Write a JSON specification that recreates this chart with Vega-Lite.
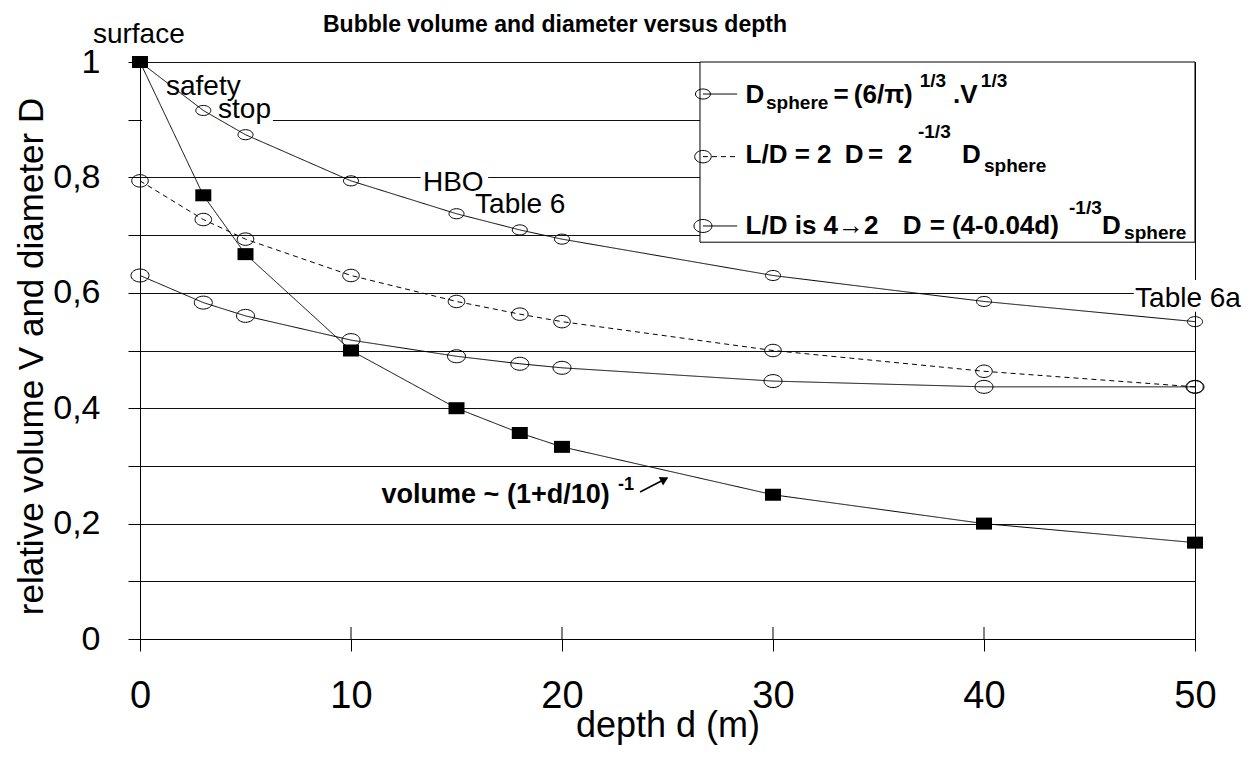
{
  "$schema": "https://vega.github.io/schema/vega-lite/v6.json",
  "autosize": "none",
  "width": 1055,
  "height": 577,
  "padding": {"left": 140, "top": 62, "right": 55, "bottom": 122},
  "background": "white",
  "title": {
    "text": "Bubble volume and diameter versus depth",
    "font": "Liberation Sans",
    "fontSize": 23,
    "fontWeight": "bold",
    "color": "black",
    "anchor": "start",
    "frame": "group",
    "dx": 183,
    "offset": 0,
    "dy": 34,
    "baseline": "alphabetic"
  },
  "config": {
    "view": {"stroke": "black", "strokeWidth": 1},
    "font": "Liberation Sans"
  },
  "datasets": {
    "series": [
      {"series": "Dsphere", "d": 0, "v": 1.0},
      {"series": "Dsphere", "d": 3, "v": 0.916},
      {"series": "Dsphere", "d": 5, "v": 0.874},
      {"series": "Dsphere", "d": 10, "v": 0.794},
      {"series": "Dsphere", "d": 15, "v": 0.737},
      {"series": "Dsphere", "d": 18, "v": 0.709},
      {"series": "Dsphere", "d": 20, "v": 0.693},
      {"series": "Dsphere", "d": 30, "v": 0.630},
      {"series": "Dsphere", "d": 40, "v": 0.585},
      {"series": "Dsphere", "d": 50, "v": 0.550},
      {"series": "LD2", "d": 0, "v": 0.794},
      {"series": "LD2", "d": 3, "v": 0.727},
      {"series": "LD2", "d": 5, "v": 0.693},
      {"series": "LD2", "d": 10, "v": 0.630},
      {"series": "LD2", "d": 15, "v": 0.585},
      {"series": "LD2", "d": 18, "v": 0.563},
      {"series": "LD2", "d": 20, "v": 0.550},
      {"series": "LD2", "d": 30, "v": 0.500},
      {"series": "LD2", "d": 40, "v": 0.464},
      {"series": "LD2", "d": 50, "v": 0.437},
      {"series": "LD42", "d": 0, "v": 0.630},
      {"series": "LD42", "d": 3, "v": 0.583},
      {"series": "LD42", "d": 5, "v": 0.560},
      {"series": "LD42", "d": 10, "v": 0.518},
      {"series": "LD42", "d": 15, "v": 0.490},
      {"series": "LD42", "d": 18, "v": 0.477},
      {"series": "LD42", "d": 20, "v": 0.470},
      {"series": "LD42", "d": 30, "v": 0.447},
      {"series": "LD42", "d": 40, "v": 0.437},
      {"series": "LD42", "d": 50, "v": 0.437},
      {"series": "V", "d": 0, "v": 1.0},
      {"series": "V", "d": 3, "v": 0.769},
      {"series": "V", "d": 5, "v": 0.667},
      {"series": "V", "d": 10, "v": 0.500},
      {"series": "V", "d": 15, "v": 0.400},
      {"series": "V", "d": 18, "v": 0.357},
      {"series": "V", "d": 20, "v": 0.333},
      {"series": "V", "d": 30, "v": 0.250},
      {"series": "V", "d": 40, "v": 0.200},
      {"series": "V", "d": 50, "v": 0.167}
    ],
    "masks": [
      {"d": 0.1, "d2": 6.3, "v": 0.888, "v2": 0.912},
      {"d": 13.3, "d2": 16.5, "v": 0.788, "v2": 0.812},
      {"d": 47.1, "d2": 50.5, "v": 0.567, "v2": 0.622}
    ],
    "xticks": [
      {"d": 10, "v": 0, "v2": 0.0208},
      {"d": 20, "v": 0, "v2": 0.0208},
      {"d": 30, "v": 0, "v2": 0.0208},
      {"d": 40, "v": 0, "v2": 0.0208}
    ],
    "box": [{"d": 26.54, "d2": 50, "v": 0.6877, "v2": 1}],
    "keys": [
      {"series": "Dsphere", "d": 26.68, "d2": 28.3, "v": 0.9445},
      {"series": "LD2", "d": 26.68, "d2": 28.3, "v": 0.836},
      {"series": "LD42", "d": 26.68, "d2": 28.3, "v": 0.7158}
    ],
    "notes": [
      {"t": "surface", "d": -2.23, "v": 1.033},
      {"t": "safety", "d": 1.23, "v": 0.943},
      {"t": "stop", "d": 3.7, "v": 0.9024},
      {"t": "HBO", "d": 13.41, "v": 0.7764},
      {"t": "Table 6", "d": 15.88, "v": 0.7378},
      {"t": "Table 6a", "d": 47.16, "v": 0.5759}
    ],
    "formula": [{"t": "volume ~ (1+d/10)", "d": 11.45, "v": 0.2352}],
    "formulaSup": [{"t": "-1", "d": 22.65, "v": 0.2582}],
    "arrow": [{"d": 23.7, "v": 0.2548, "d2": 24.98, "v2": 0.279}],
    "arrowHead": [{"d": 24.86, "v": 0.2768}],
    "legendMain": [
      {"t": "D", "d": 28.7, "v": 0.9298},
      {"t": "=", "d": 32.87, "v": 0.9298},
      {"t": "(6/π)", "d": 33.83, "v": 0.9298},
      {"t": ".V", "d": 38.53, "v": 0.9298},
      {"t": "L/D = 2", "d": 28.7, "v": 0.8243},
      {"t": "D", "d": 33.4, "v": 0.8243},
      {"t": "=", "d": 34.5, "v": 0.8243},
      {"t": "2", "d": 35.91, "v": 0.8243},
      {"t": "D", "d": 38.96, "v": 0.8243},
      {"t": "L/D is 4→2", "d": 28.7, "v": 0.7019},
      {"t": "D", "d": 36.15, "v": 0.7019},
      {"t": "=", "d": 37.43, "v": 0.7019},
      {"t": "(4-0.04d)", "d": 38.48, "v": 0.7019},
      {"t": "D", "d": 45.59, "v": 0.7019}
    ],
    "legendSmall": [
      {"t": "sphere", "d": 29.67, "v": 0.918},
      {"t": "1/3", "d": 36.95, "v": 0.956},
      {"t": "1/3", "d": 39.85, "v": 0.956},
      {"t": "-1/3", "d": 36.87, "v": 0.8683},
      {"t": "sphere", "d": 40.0, "v": 0.8097},
      {"t": "-1/3", "d": 44.03, "v": 0.7366},
      {"t": "sphere", "d": 46.64, "v": 0.6924}
    ]
  },
  "encoding": {
    "x": {
      "field": "d",
      "type": "quantitative",
      "scale": {"domain": [0, 50], "nice": false, "zero": false},
      "axis": {
        "title": "depth d (m)",
        "values": [0, 10, 20, 30, 40, 50],
        "grid": false,
        "tickSize": 12,
        "tickColor": "black",
        "tickWidth": 1,
        "domainColor": "black",
        "domainWidth": 1,
        "labelFont": "Liberation Sans",
        "labelFontSize": 38,
        "labelColor": "black",
        "labelPadding": 26,
        "labelDx": -5,
        "labelFlush": false,
        "labelOverlap": false,
        "titleFont": "Liberation Sans",
        "titleFontSize": 36,
        "titleFontWeight": "normal",
        "titleColor": "black",
        "titleBaseline": "alphabetic",
        "titleY": 97
      }
    },
    "y": {
      "field": "v",
      "type": "quantitative",
      "scale": {"domain": [0, 1], "nice": false},
      "axis": {
        "title": "relative volume V and  diameter D",
        "values": [0, 0.1, 0.2, 0.3, 0.4, 0.5, 0.6, 0.7, 0.8, 0.9, 1],
        "labelExpr": "round(datum.value*10) % 2 == 0 ? replace(format(datum.value, '.1~f'), '.', ',') : ''",
        "grid": true,
        "gridColor": "#111111",
        "gridWidth": 1,
        "gridOpacity": 1,
        "tickSize": 12,
        "tickColor": "black",
        "tickWidth": 1,
        "domainColor": "black",
        "domainWidth": 1,
        "labelFont": "Liberation Sans",
        "labelFontSize": 34,
        "labelColor": "black",
        "labelPadding": 28,
        "labelFlush": false,
        "labelOverlap": false,
        "titleFont": "Liberation Sans",
        "titleFontSize": 35,
        "titleFontWeight": "normal",
        "titleColor": "black",
        "titleAngle": 270,
        "titleAlign": "center",
        "titleBaseline": "middle",
        "titleX": -109,
        "titleY": 294
      }
    }
  },
  "layer": [
    {
      "data": {"name": "masks"},
      "mark": {"type": "rect", "fill": "white", "strokeWidth": 0},
      "encoding": {"x2": {"field": "d2"}, "y2": {"field": "v2"}}
    },
    {
      "data": {"name": "xticks"},
      "mark": {"type": "rule", "color": "black", "strokeWidth": 1},
      "encoding": {"y2": {"field": "v2"}}
    },
    {
      "data": {"name": "box"},
      "mark": {"type": "rect", "fill": "white", "stroke": "black", "strokeWidth": 1},
      "encoding": {"x2": {"field": "d2"}, "y2": {"field": "v2"}}
    },
    {
      "data": {"name": "series"},
      "mark": {"type": "line", "color": "black"},
      "encoding": {
        "detail": {"field": "series", "type": "nominal"},
        "strokeDash": {
          "field": "series",
          "type": "nominal",
          "scale": {"domain": ["Dsphere", "LD2", "LD42", "V"], "range": [[1, 0], [5, 4], [1, 0], [1, 0]]},
          "legend": null
        },
        "strokeWidth": {
          "field": "series",
          "type": "nominal",
          "scale": {"domain": ["Dsphere", "LD2", "LD42", "V"], "range": [1, 1, 1.6, 1]},
          "legend": null
        }
      }
    },
    {
      "data": {"name": "keys"},
      "mark": {"type": "rule", "color": "black", "strokeWidth": 1},
      "encoding": {
        "x2": {"field": "d2"},
        "strokeDash": {
          "field": "series",
          "type": "nominal",
          "scale": {"domain": ["Dsphere", "LD2", "LD42", "V"], "range": [[1, 0], [5, 4], [1, 0], [1, 0]]},
          "legend": null
        }
      }
    },
    {
      "data": {"name": "series"},
      "transform": [{"filter": "datum.series != 'V'"}],
      "mark": {"type": "point", "filled": false, "stroke": "black", "strokeWidth": 1, "opacity": 1},
      "encoding": {
        "shape": {
          "field": "series",
          "type": "nominal",
          "scale": {
            "domain": ["Dsphere", "LD2", "LD42"],
            "range": [
              "M-1,0C-1,-0.37,-0.55,-0.67,0,-0.67C0.55,-0.67,1,-0.37,1,0C1,0.37,0.55,0.67,0,0.67C-0.55,0.67,-1,0.37,-1,0Z",
              "M-1,0C-1,-0.41,-0.55,-0.75,0,-0.75C0.55,-0.75,1,-0.41,1,0C1,0.41,0.55,0.75,0,0.75C-0.55,0.75,-1,0.41,-1,0Z",
              "M-1,0C-1,-0.4,-0.55,-0.72,0,-0.72C0.55,-0.72,1,-0.4,1,0C1,0.4,0.55,0.72,0,0.72C-0.55,0.72,-1,0.4,-1,0Z"
            ]
          },
          "legend": null
        },
        "size": {
          "field": "series",
          "type": "nominal",
          "scale": {"domain": ["Dsphere", "LD2", "LD42"], "range": [225, 324, 576]},
          "legend": null
        }
      }
    },
    {
      "data": {"name": "keys"},
      "mark": {"type": "point", "filled": false, "stroke": "black", "strokeWidth": 1, "opacity": 1},
      "encoding": {
        "shape": {
          "field": "series",
          "type": "nominal",
          "scale": {
            "domain": ["Dsphere", "LD2", "LD42"],
            "range": [
              "M-1,0C-1,-0.37,-0.55,-0.67,0,-0.67C0.55,-0.67,1,-0.37,1,0C1,0.37,0.55,0.67,0,0.67C-0.55,0.67,-1,0.37,-1,0Z",
              "M-1,0C-1,-0.41,-0.55,-0.75,0,-0.75C0.55,-0.75,1,-0.41,1,0C1,0.41,0.55,0.75,0,0.75C-0.55,0.75,-1,0.41,-1,0Z",
              "M-1,0C-1,-0.4,-0.55,-0.72,0,-0.72C0.55,-0.72,1,-0.4,1,0C1,0.4,0.55,0.72,0,0.72C-0.55,0.72,-1,0.4,-1,0Z"
            ]
          },
          "legend": null
        },
        "size": {
          "field": "series",
          "type": "nominal",
          "scale": {"domain": ["Dsphere", "LD2", "LD42"], "range": [225, 324, 576]},
          "legend": null
        }
      }
    },
    {
      "data": {"name": "series"},
      "transform": [{"filter": "datum.series == 'V'"}],
      "mark": {
        "type": "point",
        "filled": true,
        "color": "black",
        "opacity": 1,
        "strokeWidth": 0,
        "shape": "M-1,-0.75L1,-0.75L1,0.75L-1,0.75Z",
        "size": 256
      }
    },
    {
      "data": {"name": "notes"},
      "mark": {"type": "text", "font": "Liberation Sans", "fontSize": 28, "color": "black", "align": "left", "baseline": "alphabetic"},
      "encoding": {"text": {"field": "t"}}
    },
    {
      "data": {"name": "formula"},
      "mark": {"type": "text", "font": "Liberation Sans", "fontSize": 27, "fontWeight": "bold", "color": "black", "align": "left", "baseline": "alphabetic"},
      "encoding": {"text": {"field": "t"}}
    },
    {
      "data": {"name": "formulaSup"},
      "mark": {"type": "text", "font": "Liberation Sans", "fontSize": 18, "fontWeight": "bold", "color": "black", "align": "left", "baseline": "alphabetic"},
      "encoding": {"text": {"field": "t"}}
    },
    {
      "data": {"name": "arrow"},
      "mark": {"type": "rule", "color": "black", "strokeWidth": 1.5},
      "encoding": {"x2": {"field": "d2"}, "y2": {"field": "v2"}}
    },
    {
      "data": {"name": "arrowHead"},
      "mark": {"type": "point", "shape": "triangle-right", "filled": true, "color": "black", "opacity": 1, "size": 90, "angle": 333, "strokeWidth": 0}
    },
    {
      "data": {"name": "legendMain"},
      "mark": {"type": "text", "font": "Liberation Sans", "fontSize": 26, "fontWeight": "bold", "color": "black", "align": "left", "baseline": "alphabetic"},
      "encoding": {"text": {"field": "t"}}
    },
    {
      "data": {"name": "legendSmall"},
      "mark": {"type": "text", "font": "Liberation Sans", "fontSize": 19, "fontWeight": "bold", "color": "black", "align": "left", "baseline": "alphabetic"},
      "encoding": {"text": {"field": "t"}}
    }
  ]
}
